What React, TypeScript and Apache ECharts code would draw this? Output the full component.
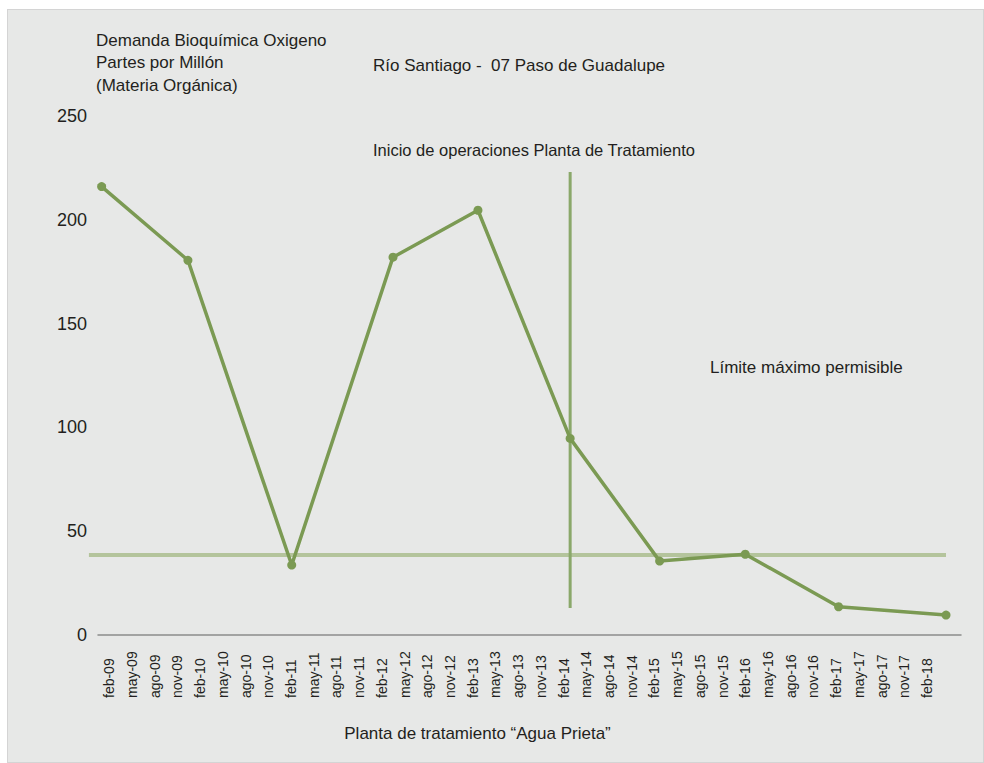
import React, { useEffect, useRef } from 'react';
import * as echarts from 'echarts';

const categories = [
  'feb-09', 'may-09', 'ago-09', 'nov-09',
  'feb-10', 'may-10', 'ago-10', 'nov-10',
  'feb-11', 'may-11', 'ago-11', 'nov-11',
  'feb-12', 'may-12', 'ago-12', 'nov-12',
  'feb-13', 'may-13', 'ago-13', 'nov-13',
  'feb-14', 'may-14', 'ago-14', 'nov-14',
  'feb-15', 'may-15', 'ago-15', 'nov-15',
  'feb-16', 'may-16', 'ago-16', 'nov-16',
  'feb-17', 'may-17', 'ago-17', 'nov-17',
  'feb-18', '',
];

// Sample positions along the quarterly axis (in category-index units) and values (ppm)
const sampleLabels = ['feb-09', 'nov-09', 'feb-11', 'feb-12', 'feb-13', 'feb-14', 'feb-15', 'feb-16', 'feb-17', 'feb-18'];
const samplePositions = [-0.34, 3.46, 8.03, 12.49, 16.23, 20.29, 24.23, 28.0, 32.11, 36.84];
const dboValues = [216, 180.5, 33.7, 182, 204.6, 94.7, 35.6, 38.9, 13.6, 9.6];

const limitValue = 38.5;
const limitSpan = [-0.9, 36.84];
const plantStart = 20.29;
const plantLineRange = [13, 223];

const FONT = '"Liberation Sans", Arial, sans-serif';
const TEXT = '#231f20';

const GRID_LEFT = 90;
const GRID_RIGHT = 22;
const GRID_TOP = 106;
const GRID_BOTTOM = 127;
const BAND = (975 - GRID_LEFT - GRID_RIGHT) / categories.length;

export default function App() {
  const ref = useRef<HTMLDivElement>(null);

  useEffect(() => {
    if (!ref.current) return;
    const chart = echarts.init(ref.current, undefined, { renderer: 'svg' });
    const mainData = samplePositions.map((x, i) => [x, dboValues[i]]);
    chart.setOption({
      animation: false,
      backgroundColor: 'transparent',
      grid: [
        { left: GRID_LEFT, right: GRID_RIGHT, top: GRID_TOP, bottom: GRID_BOTTOM, containLabel: false },
        { left: GRID_LEFT - BAND, right: GRID_RIGHT, top: GRID_TOP, bottom: GRID_BOTTOM, containLabel: false },
      ],
      xAxis: [
        {
          type: 'category',
          gridIndex: 0,
          data: categories,
          boundaryGap: true,
          axisLine: { show: true, lineStyle: { color: '#8c8c8c', width: 1.5 } },
          axisTick: { show: false },
          splitLine: { show: false },
          axisLabel: {
            interval: 0,
            rotate: 90,
            margin: 63,
            align: 'left',
            verticalAlign: 'middle',
            fontSize: 14,
            fontFamily: FONT,
            color: TEXT,
          },
        },
        { type: 'value', gridIndex: 0, min: -0.5, max: 37.5, show: false },
        { type: 'value', gridIndex: 1, min: -1.5, max: 37.5, show: false },
      ],
      yAxis: [
        {
          type: 'value',
          gridIndex: 0,
          min: 0,
          max: 250,
          interval: 50,
          axisLine: { show: false },
          axisTick: { show: false },
          splitLine: { show: false },
          axisLabel: { fontSize: 18, fontFamily: FONT, color: TEXT, margin: 11 },
        },
        { type: 'value', gridIndex: 1, min: 0, max: 250, interval: 50, show: false },
      ],
      series: [
        {
          name: 'Límite máximo permisible',
          type: 'line',
          xAxisIndex: 2,
          yAxisIndex: 1,
          data: [[limitSpan[0], limitValue], [limitSpan[1], limitValue]],
          symbol: 'none',
          lineStyle: { color: '#b4c49c', width: 4 },
          z: 1,
        },
        {
          name: 'Inicio de operaciones',
          type: 'line',
          xAxisIndex: 1,
          yAxisIndex: 0,
          data: [[plantStart, plantLineRange[0]], [plantStart, plantLineRange[1]]],
          symbol: 'none',
          lineStyle: { color: '#8aa86a', width: 3 },
          z: 2,
        },
        {
          name: 'DBO',
          type: 'line',
          xAxisIndex: 1,
          yAxisIndex: 0,
          data: mainData,
          symbol: 'circle',
          symbolSize: 9,
          itemStyle: { color: '#7b9a53' },
          lineStyle: { color: '#7b9a53', width: 3.5 },
          z: 3,
        },
      ],
      graphic: [
        {
          type: 'text',
          left: 88,
          top: 19,
          style: {
            text: 'Demanda Bioquímica Oxigeno\nPartes por Millón\n(Materia Orgánica)',
            font: `17px ${FONT}`,
            lineHeight: 22.5,
            fill: TEXT,
          },
        },
        {
          type: 'text',
          x: 365,
          y: 55,
          style: { text: 'Río Santiago -  07 Paso de Guadalupe', font: `17px ${FONT}`, fill: TEXT, verticalAlign: 'middle' },
        },
        {
          type: 'text',
          x: 365,
          y: 140,
          style: { text: 'Inicio de operaciones Planta de Tratamiento', font: `16.5px ${FONT}`, fill: TEXT, verticalAlign: 'middle' },
        },
        {
          type: 'text',
          x: 702,
          y: 357,
          style: { text: 'Límite máximo permisible', font: `17px ${FONT}`, fill: TEXT, verticalAlign: 'middle' },
        },
        {
          type: 'text',
          x: 469.5,
          y: 723,
          style: { text: 'Planta de tratamiento “Agua Prieta”', font: `17px ${FONT}`, fill: TEXT, align: 'center', verticalAlign: 'middle' },
        },
      ],
    });
    return () => chart.dispose();
  }, []);

  return (
    <div
      style={{
        position: 'fixed',
        left: 7,
        top: 9,
        width: 977,
        height: 754,
        boxSizing: 'border-box',
        border: '1px solid #d4d4d4',
        background: '#e7e8e7',
      }}
    >
      <div ref={ref} style={{ width: '100%', height: '100%' }} />
    </div>
  );
}
